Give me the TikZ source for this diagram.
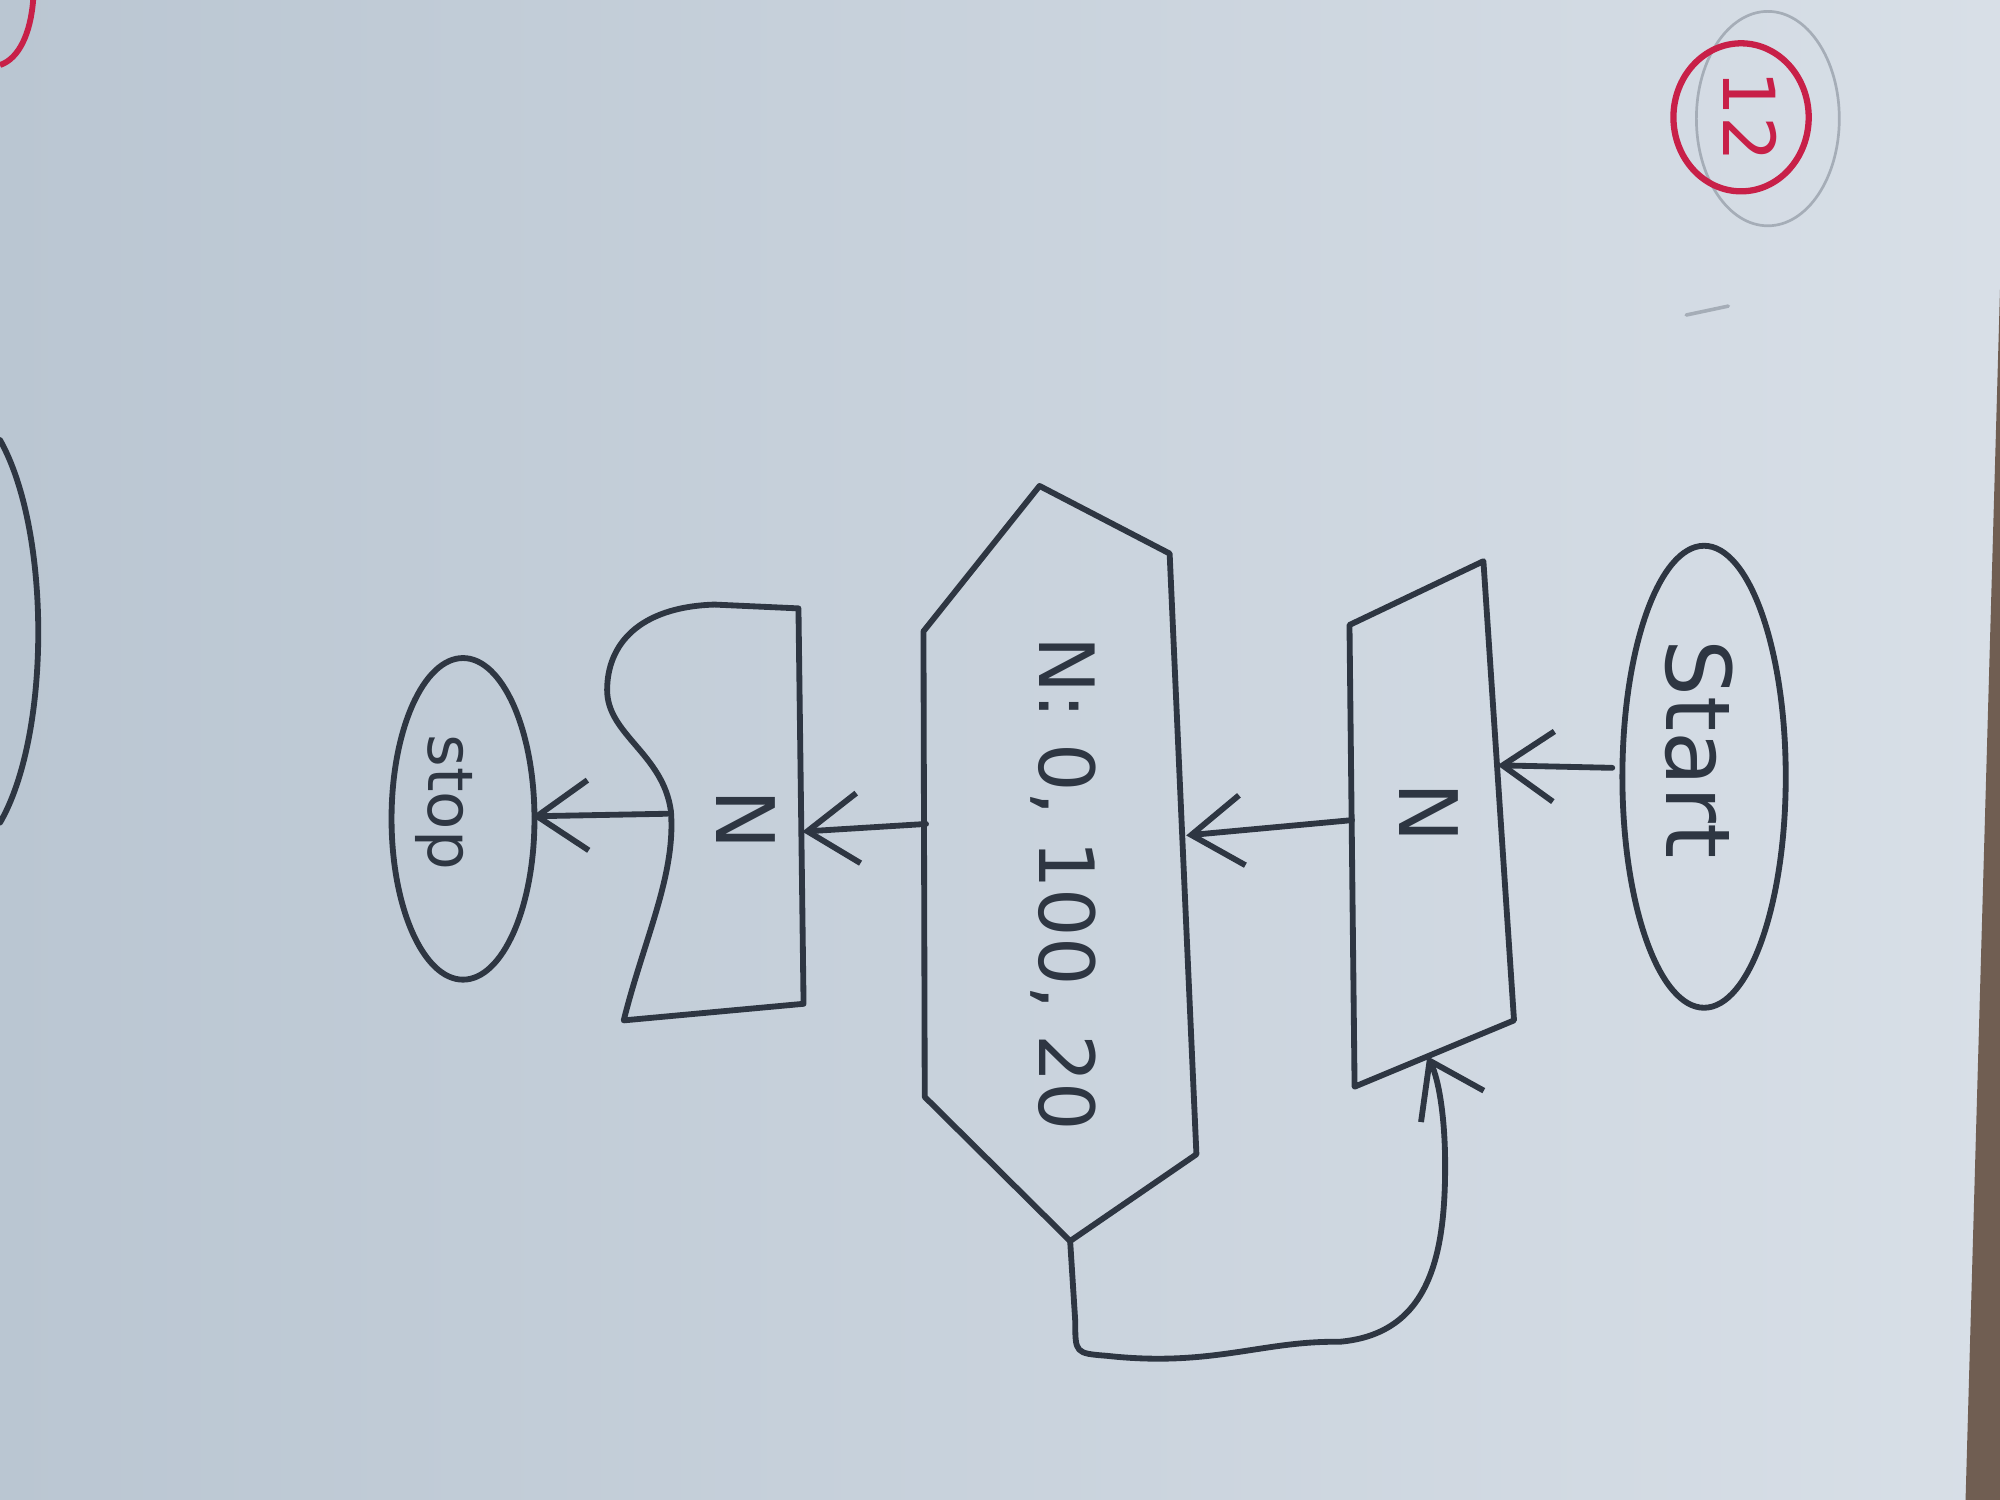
\documentclass[tikz,border=0pt]{standalone}
\usepackage{fontspec}
\setmainfont{DejaVu Sans}
\usetikzlibrary{arrows.meta,shapes.geometric}
\definecolor{ink}{RGB}{46,54,66}
\definecolor{redink}{RGB}{200,32,72}
\definecolor{paperL}{RGB}{186,198,210}
\definecolor{paperR}{RGB}{216,223,231}
\definecolor{pencil}{RGB}{165,173,183}
\definecolor{desk}{RGB}{112,94,82}
\begin{document}
\begin{tikzpicture}[x=0.01cm,y=0.01cm,
  inkline/.style={draw=ink, line width=1.3pt, line join=round, line cap=round},
  arr/.style={inkline, -{Straight Barb[length=4mm,width=5.5mm]}},
  lbl/.style={text=ink, rotate=-90, inner sep=0pt}]
\useasboundingbox (0,0) rectangle (1568,1176);
% paper
\shade[left color=paperL, right color=paperR] (0,0) rectangle (1568,1176);
\fill[desk] (1568,949) -- (1541,0) -- (1568,0) -- cycle;
% fragments of neighbouring drawings
\draw[inkline] (0,831) .. controls (40,760) and (40,600) .. (0,531);
\draw[draw=redink, line width=1.3pt] (0,1125) .. controls (15,1130) and (24,1150) .. (26,1176);
\draw[draw=pencil, line width=0.8pt, line cap=round] (1322,929) -- (1355,936);
% page number
\node[draw=pencil, line width=0.6pt, ellipse, minimum width=1.12cm, minimum height=1.68cm, inner sep=0] (ring) at (1386,1083) {};
\node[draw=redink, line width=1.4pt, ellipse, minimum width=1.06cm, minimum height=1.16cm, inner sep=0] (badge) at (1365,1084) {};
\node[text=redink, rotate=-90, inner sep=0pt, font=\fontsize{16}{19}\selectfont] (badgetxt) at (1372,1085) {12};
% Start
\node[inkline, ellipse, minimum width=1.28cm, minimum height=3.62cm, inner sep=0] (start) at (1336,567) {};
\node[lbl, font=\fontsize{20}{24}\selectfont] (starttxt) at (1332,589) {Start};
% input parallelogram
\coordinate (pTL) at (1058,686);
\coordinate (pTR) at (1163,736);
\coordinate (pBR) at (1187,376);
\coordinate (pBL) at (1062,324);
\draw[inkline] (pTL) -- (pTR) -- (pBR) -- (pBL) -- cycle;
\node[lbl, font=\fontsize{18}{22}\selectfont] (partxt) at (1120,539) {N};
\coordinate (startL) at (1264,574);
\coordinate (parR) at (1174,576);
\coordinate (parL) at (1060,533);
\coordinate (parB) at (1119,348);
% loop hexagon
\coordinate (hT) at (815,795);
\coordinate (hTR) at (917,742);
\coordinate (hBR) at (938,271);
\coordinate (hexB) at (839,203);
\coordinate (hBL) at (725,316);
\coordinate (hTL) at (724,681);
\draw[inkline] (hT) -- (hTR) -- (hBR) -- (hexB) -- (hBL) -- (hTL) -- cycle;
\node[lbl, font=\fontsize{17}{20}\selectfont] (hextxt) at (834,483) {N: 0, 100, 20};
\coordinate (hexR) at (930,521);
\coordinate (hexL) at (726,530);
% output document shape
\coordinate (dTR) at (626,699);
\coordinate (dBR) at (630,389);
\draw[inkline] (dTR) -- (560,702) .. controls (500,700) and (476,670) .. (476,635)
  .. controls (476,600) and (520,585) .. (526,540)
  .. controls (530,490) and (505,440) .. (489,376) -- (dBR) -- cycle;
\node[lbl, font=\fontsize{18}{22}\selectfont] (doctxt) at (585,533) {N};
\coordinate (docR) at (629,524);
\coordinate (docL) at (523,538);
% Stop
\node[inkline, ellipse, minimum width=1.12cm, minimum height=2.52cm, inner sep=0] (stop) at (363,534) {};
\node[lbl, font=\fontsize{14}{17}\selectfont] (stoptxt) at (348,547) {stop};
\coordinate (stopR) at (417,536);
% connectors
\draw[arr] (startL) -- (parR);
\draw[arr] (parL) -- (hexR);
\draw[arr] (hexL) -- (docR);
\draw[arr] (docL) -- (stopR);
\draw[arr] (hexB) -- (843,140) .. controls (843,115) .. (868,113)
  .. controls (950,104) and (990,125) .. (1050,124)
  .. controls (1120,130) and (1133,190) .. (1133,262)
  .. controls (1133,300) and (1128,330) .. (parB);
\end{tikzpicture}
\end{document}
